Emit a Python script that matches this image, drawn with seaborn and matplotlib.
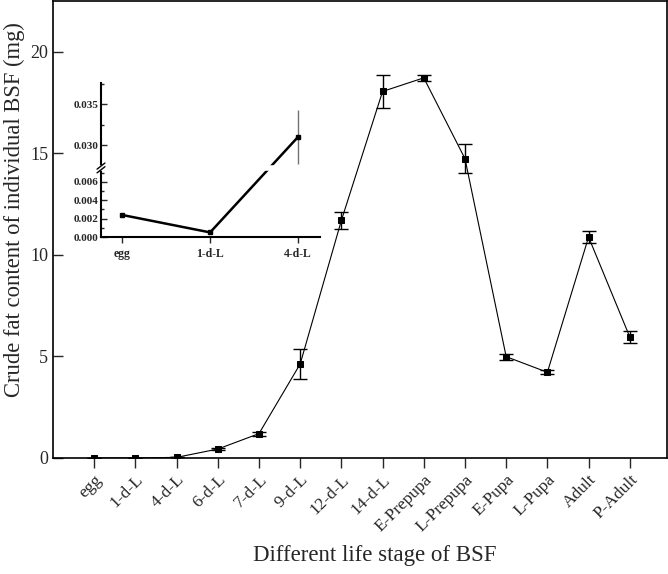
import numpy as np
import pandas as pd
import matplotlib
matplotlib.use("Agg")
import matplotlib.pyplot as plt
import seaborn as sns

# life stages and crude fat content (mg per individual)
stages = ["egg", "1-d-L", "4-d-L", "6-d-L", "7-d-L", "9-d-L", "12-d-L", "14-d-L",
          "E-Prepupa", "L-Prepupa", "E-Pupa", "L-Pupa", "Adult", "P-Adult"]
fat = [0.0024, 0.0005, 0.031, 0.44, 1.2, 4.63, 11.7, 18.05,
       18.72, 14.74, 4.99, 4.22, 10.88, 5.96]
fat_err = [0.0003, 0.0002, 0.0033, 0.06, 0.1, 0.72, 0.42, 0.82,
           0.15, 0.7, 0.15, 0.1, 0.3, 0.3]

# inset: first three stages
inset_stages = ["egg", "1-d-L", "4-d-L"]
inset_fat = [0.0024, 0.0005, 0.031]
inset_err = [0.0, 0.0, 0.0033]

sns.set_style("ticks")
plt.rcParams["font.family"] = ["Liberation Serif", "DejaVu Serif"]

df = pd.DataFrame({"pos": np.arange(len(stages)), "fat": fat, "err": fat_err})

fig = plt.figure(figsize=(6.68, 5.74), dpi=100)
ax = fig.add_axes([0.0793, 0.2021, 0.919, 0.796])

sns.lineplot(data=df, x="pos", y="fat", color="black", linewidth=0.8,
             marker="s", markersize=5, markeredgecolor="black", ax=ax, zorder=3)
ax.errorbar(df["pos"], df["fat"], yerr=df["err"], fmt="none", ecolor="black",
            elinewidth=1, capsize=5, capthick=1, zorder=2)

ax.set_xlim(-1.0, 13.9)
ax.set_ylim(0, 22.5)
ax.set_yticks([0, 5, 10, 15, 20])
ax.set_xticks(df["pos"])
ax.set_xticklabels(stages, rotation=45, ha="right", rotation_mode="anchor", fontsize=12.5)
ax.tick_params(axis="y", direction="in", length=7, width=1, labelsize=13)
ax.tick_params(axis="x", direction="out", length=7, width=1, pad=3)
for s in ax.spines.values():
    s.set_linewidth(1.2)
    s.set_color("black")
ax.set_xlabel("Different life stage of BSF", fontsize=16.5)
ax.set_ylabel("Crude fat content of individual BSF (mg)", fontsize=16.3)
ax.xaxis.set_label_coords(0.524, -0.19)
ax.yaxis.set_label_coords(-0.045, 0.543)

# inset with broken y axis
lo_top, hi_bot, hi_top = 0.0075, 0.0272, 0.0376
f_lo, eps = 0.448, 0.002
xp = [-1.0, 0.0, lo_top, hi_bot, hi_top, 1.0]
fp = [-f_lo / lo_top, 0.0, f_lo, f_lo + eps, 1.0,
      1.0 + (1.0 - hi_top) * (1 - f_lo - eps) / (hi_top - hi_bot)]


def fwd(v):
    return np.interp(v, xp, fp)


def inv(u):
    return np.interp(u, fp, xp)


ins = fig.add_axes([0.1512, 0.5871, 0.328, 0.268])
ins.set_yscale("function", functions=(fwd, inv))
ins.plot(range(3), inset_fat, color="black", linewidth=1.8,
         marker="s", markersize=2.5, zorder=3)
ins.errorbar(range(3), inset_fat, yerr=inset_err, fmt="none", ecolor="0.45",
             elinewidth=1, capsize=0, zorder=2)
ins.set_ylim(0, hi_top)
ins.set_xlim(-0.24, 2.25)
ins.set_yticks([0, 0.002, 0.004, 0.006, 0.030, 0.035])
ins.set_yticks([0.001, 0.003, 0.005, 0.007, 0.0325, 0.0375], minor=True)
ins.set_yticklabels(["0.000", "0.002", "0.004", "0.006", "0.030", "0.035"],
                    fontsize=8, fontweight="bold")
ins.set_xticks(range(3))
ins.set_xticklabels(inset_stages, fontsize=8.5, fontweight="bold")
ins.tick_params(axis="y", which="major", direction="in", length=4, width=1, pad=2)
ins.tick_params(axis="y", which="minor", direction="in", length=2, width=1)
ins.tick_params(axis="x", direction="out", length=4, width=1, pad=4)
ins.spines["top"].set_visible(False)
ins.spines["right"].set_visible(False)
for s in ["left", "bottom"]:
    ins.spines[s].set_linewidth(1.5)
    ins.spines[s].set_color("black")
ins.patch.set_alpha(0)

# break marks
yb = f_lo + eps / 2
ins.plot([0, 1], [yb, yb], transform=ins.transAxes, color="white",
         linewidth=4, zorder=4, clip_on=False)
for dy in (-0.012, 0.012):
    ins.plot([-0.018, 0.018], [yb + dy - 0.02, yb + dy + 0.02], transform=ins.transAxes,
             color="black", linewidth=1, zorder=5, clip_on=False)

fig.savefig("out.png", dpi=100)
